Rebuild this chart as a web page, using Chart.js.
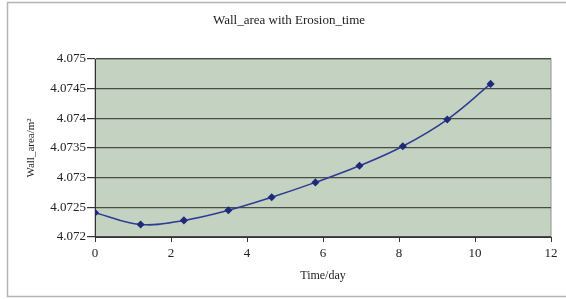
<!DOCTYPE html>
<html>
<head>
<meta charset="utf-8">
<script src="https://cdn.jsdelivr.net/npm/chart.js@4"></script>
<style>
  html, body { margin: 0; padding: 0; background: #fff; }
  #wrap { width: 566px; height: 299px; }
</style>
</head>
<body>
<div id="wrap"><canvas id="wallChart" width="566" height="299"></canvas></div>
<script>
// values
const timeDays = [0, 1.20, 2.34, 3.51, 4.65, 5.80, 6.96, 8.10, 9.27, 10.41];
const wallArea = [4.07241, 4.07221, 4.07228, 4.07245, 4.07267, 4.07292, 4.07320, 4.07353, 4.07398, 4.07458];
const xTicks = [0, 2, 4, 6, 8, 10, 12];
const yTickLabels = ['4.072', '4.0725', '4.073', '4.0735', '4.074', '4.0745', '4.075'];
const chartTitle = 'Wall_area with Erosion_time';

const serif = '"Liberation Serif", "DejaVu Serif", serif';

// grey-green plot area, its frame, the outer chart border and the title
const frame = {
  id: 'frame',
  beforeDraw(chart) {
    const c = chart.ctx;
    const a = chart.chartArea;
    c.save();
    c.strokeStyle = '#b4b4b4';
    c.lineWidth = 1.5;
    c.strokeRect(7.5, 2.5, 570, 294);
    c.fillStyle = '#c4d2c2';
    c.fillRect(a.left, a.top, a.right - a.left, a.bottom - a.top);
    c.strokeStyle = '#8c968a';
    c.lineWidth = 1;
    c.strokeRect(a.left, a.top, a.right - a.left, a.bottom - a.top);
    // title sits a little right of the canvas centre, as in the original
    c.fillStyle = '#222';
    c.font = '13px ' + serif;
    c.textAlign = 'center';
    c.textBaseline = 'middle';
    c.fillText(chartTitle, 289, 21);
    c.restore();
  }
};

const ctx = document.getElementById('wallChart');

new Chart(ctx, {
  type: 'scatter',
  data: {
    datasets: [{
      label: 'Wall_area',
      data: timeDays.map((t, i) => ({ x: t, y: wallArea[i] })),
      showLine: true,
      tension: 0.4,
      borderColor: '#2d3c92',
      borderWidth: 1.5,
      pointStyle: 'rectRot',
      pointRadius: 3,
      pointBackgroundColor: '#1f2a78',
      pointBorderColor: '#1f2a78'
    }]
  },
  plugins: [frame],
  options: {
    responsive: false,
    animation: false,
    layout: { padding: { left: 0, right: 15, top: 59, bottom: 0 } },
    plugins: {
      legend: { display: false },
      tooltip: { enabled: false },
      title: { display: false }
    },
    scales: {
      x: {
        type: 'linear',
        min: 0,
        max: 12,
        afterBuildTicks(scale) {
          scale.ticks = xTicks.map(v => ({ value: v }));
        },
        afterFit(scale) { scale.height = 62; },
        grid: { drawOnChartArea: false, drawTicks: true, tickLength: 5, color: '#333', tickColor: '#333' },
        border: { display: true, color: '#333' },
        ticks: { color: '#222', padding: 4, font: { family: serif, size: 13 } },
        title: {
          display: true,
          text: 'Time/day',
          color: '#222',
          font: { family: serif, size: 12 },
          padding: { top: 4, bottom: 16 }
        }
      },
      y: {
        min: 4.072,
        max: 4.075,
        afterBuildTicks(scale) {
          scale.ticks = yTickLabels.map(s => ({ value: Number(s) }));
        },
        afterFit(scale) { scale.width = 95; },
        grid: { color: '#4a4c44', lineWidth: 1.2, tickLength: 8, tickColor: '#333' },
        border: { display: true, color: '#333' },
        ticks: {
          color: '#222',
          padding: 1,
          font: { family: serif, size: 13 },
          callback: v => yTickLabels.find(s => Number(s) === v) ?? ''
        },
        title: {
          display: true,
          text: 'Wall_area/m²',
          color: '#222',
          font: { family: serif, size: 11 },
          padding: { top: 25, bottom: 0 }
        }
      }
    }
  }
});
</script>
</body>
</html>
